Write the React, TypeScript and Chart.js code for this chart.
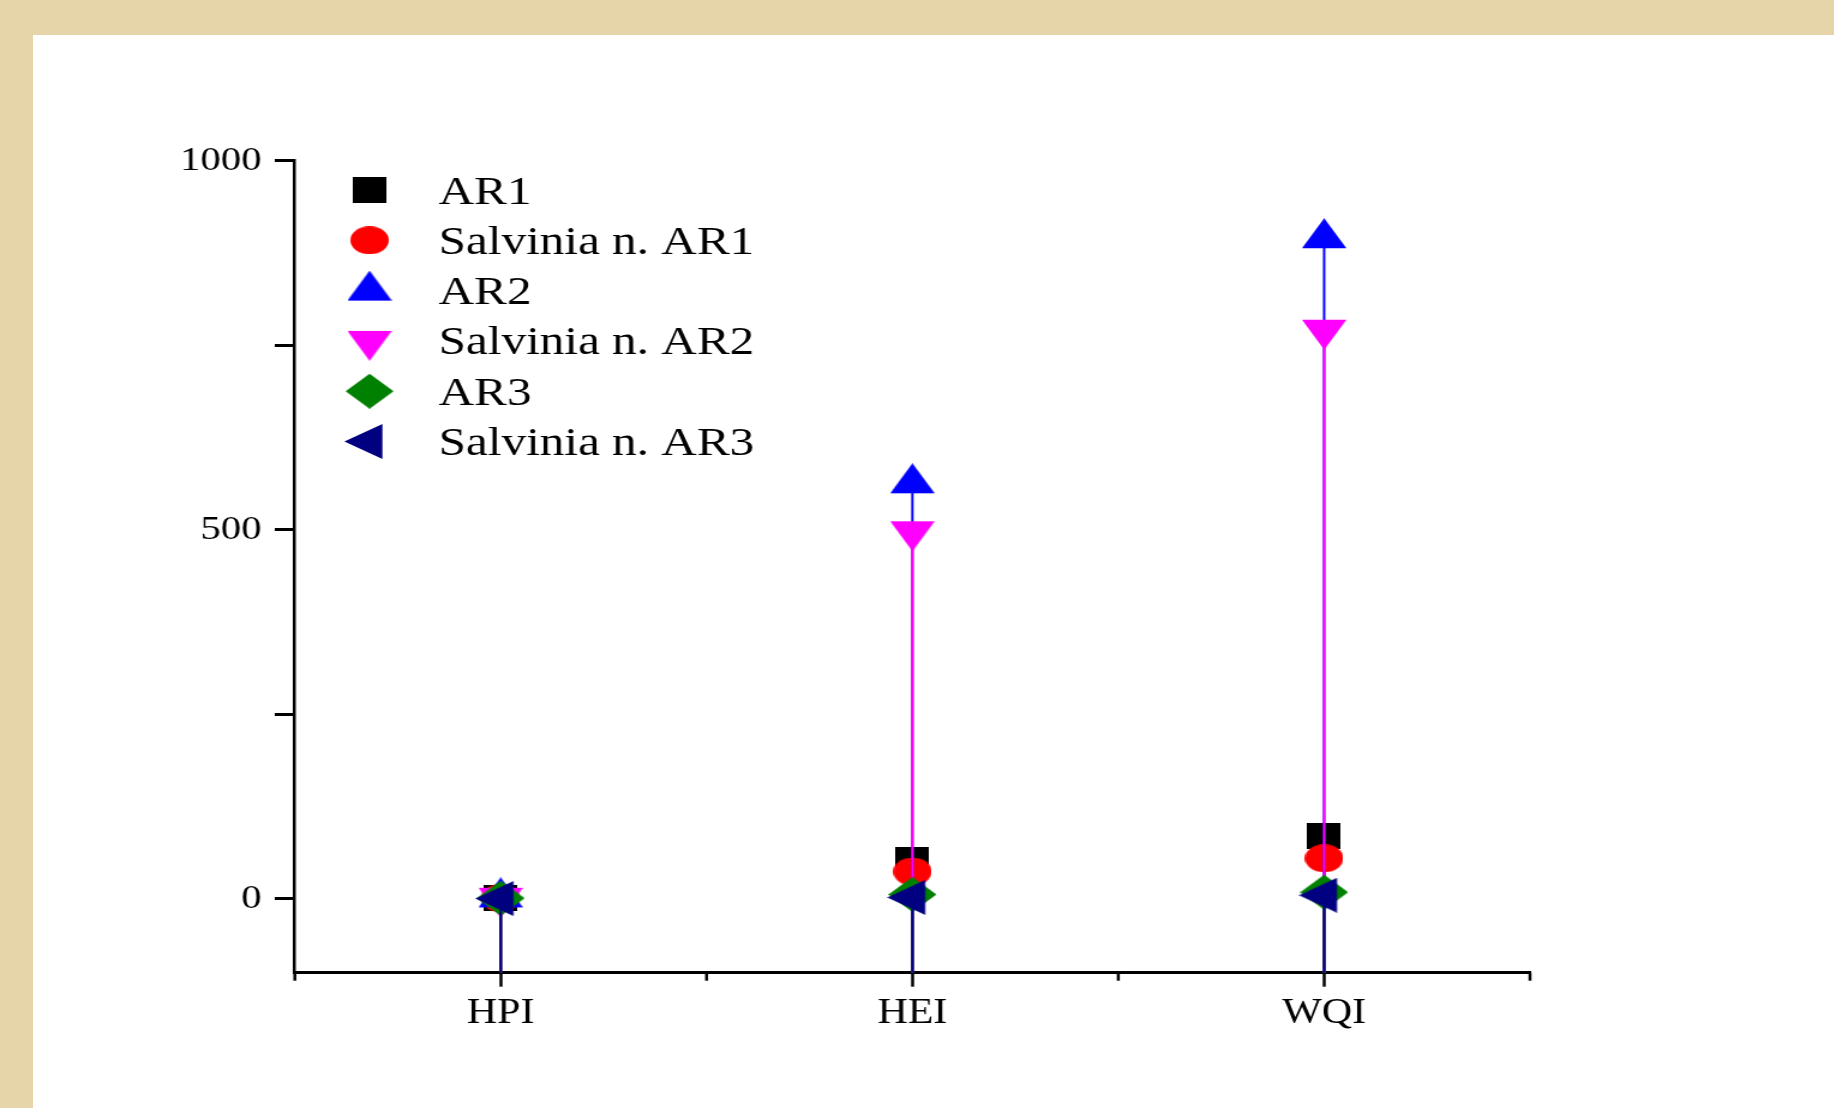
import React, { useEffect, useRef } from 'react';
import { Chart, registerables } from 'chart.js';

Chart.register(...registerables);

// ---------- data ----------
const categories = ['HPI', 'HEI', 'WQI'];
const seriesNames = ['AR1', 'Salvinia n. AR1', 'AR2', 'Salvinia n. AR2', 'AR3', 'Salvinia n. AR3'];
const ar1Values = [1, 53, 85];
const salviniaAr1Values = [1, 37, 55];
const ar2Values = [2, 563, 895];
const salviniaAr2Values = [1.5, 498, 771];
const ar3Values = [1, 6, 9];
const salviniaAr3Values = [0.5, 2, 5];
const yTickValues = [0, 250, 500, 750, 1000];
const yLabelledTicks = [0, 500, 1000];
const xMinorTickValues = [0.5, 1.5, 2.5, 3.5];

// ---------- styles ----------
const seriesColors = ['#000000', '#FF0000', '#0000FF', '#FF00FF', '#008000', '#000080'];
const seriesShapes = ['square', 'circle', 'triangleUp', 'triangleDown', 'diamond', 'triangleLeft'];

const STRETCH = 1.2;
const PAGE_W = 1834;
const PAGE_H = 1108;
const CANVAS_W = Math.round(PAGE_W / STRETCH);
const FONT = 'Liberation Serif';

function makeMarker(shape: string, color: string): HTMLCanvasElement {
  const c = document.createElement('canvas');
  let w = 28, h = 26;
  if (shape === 'circle') { w = 32; h = 28; }
  if (shape === 'triangleUp' || shape === 'triangleDown') { w = 37; h = 40; }
  if (shape === 'diamond') { w = 40; h = 35; }
  if (shape === 'triangleLeft') { w = 42; h = 35; }
  c.width = w;
  c.height = h;
  const ctx = c.getContext('2d')!;
  ctx.fillStyle = color;
  ctx.beginPath();
  switch (shape) {
    case 'square':
      ctx.rect(0, 0, w, h);
      break;
    case 'circle':
      ctx.ellipse(w / 2, h / 2, w / 2, h / 2, 0, 0, Math.PI * 2);
      break;
    case 'triangleUp':
      ctx.moveTo(0, 30); ctx.lineTo(w / 2, 0); ctx.lineTo(w, 30);
      break;
    case 'triangleDown':
      ctx.moveTo(0, 10); ctx.lineTo(w, 10); ctx.lineTo(w / 2, 40);
      break;
    case 'diamond':
      ctx.moveTo(w / 2, 0); ctx.lineTo(w, h / 2); ctx.lineTo(w / 2, h); ctx.lineTo(0, h / 2);
      break;
    case 'triangleLeft':
      ctx.moveTo(0, h / 2); ctx.lineTo(31.7, 0); ctx.lineTo(31.7, h);
      break;
  }
  ctx.closePath();
  ctx.fill();
  return c;
}

export default function App() {
  const canvasRef = useRef<HTMLCanvasElement | null>(null);

  useEffect(() => {
    const canvas = canvasRef.current;
    if (!canvas) return;
    const seriesValues = [ar1Values, salviniaAr1Values, ar2Values, salviniaAr2Values, ar3Values, salviniaAr3Values];
    const markers = seriesShapes.map((s, i) => makeMarker(s, seriesColors[i]));

    const dropLines = {
      id: 'dropLines',
      beforeDatasetDraw(chart: any, args: any) {
        const ds = chart.data.datasets[args.index];
        const ctx = chart.ctx;
        const bottom = chart.chartArea.bottom;
        ctx.save();
        ctx.strokeStyle = ds.borderColor;
        ctx.lineWidth = 2;
        args.meta.data.forEach((el: any) => {
          ctx.beginPath();
          ctx.moveTo(el.x, el.y);
          ctx.lineTo(el.x, bottom);
          ctx.stroke();
        });
        ctx.restore();
      },
    };

    const minorTicks = {
      id: 'minorTicks',
      afterDraw(chart: any) {
        const xs = chart.scales.x;
        const ctx = chart.ctx;
        const bottom = chart.chartArea.bottom;
        ctx.save();
        ctx.strokeStyle = '#000';
        ctx.lineWidth = 2.5;
        xMinorTickValues.forEach((v) => {
          const px = xs.getPixelForValue(v);
          ctx.beginPath();
          ctx.moveTo(px, bottom);
          ctx.lineTo(px, bottom + 8);
          ctx.stroke();
        });
        ctx.restore();
      },
    };

    const legendPlugin = {
      id: 'customLegend',
      afterDraw(chart: any) {
        const ctx = chart.ctx;
        ctx.save();
        ctx.font = `41px "${FONT}"`;
        ctx.fillStyle = '#000';
        ctx.textAlign = 'left';
        ctx.textBaseline = 'alphabetic';
        chart.data.datasets.forEach((ds: any, i: number) => {
          const cy = 190 + 50.3 * i;
          const img = markers[i];
          ctx.drawImage(img, 308 - img.width / 2, cy - img.height / 2);
          ctx.fillText(ds.label, 365.5, cy + 13.5);
        });
        ctx.restore();
      },
    };

    const chart = new Chart(canvas, {
      type: 'scatter',
      data: {
        datasets: seriesNames.map((name, i) => ({
          label: name,
          data: categories.map((_, j) => ({ x: j + 1, y: seriesValues[i][j] })),
          pointStyle: markers[i] as any,
          pointRadius: 12,
          pointHoverRadius: 12,
          borderColor: seriesColors[i],
          backgroundColor: seriesColors[i],
          showLine: false,
          order: seriesNames.length - 1 - i,
        })),
      },
      options: {
        responsive: false,
        animation: false,
        devicePixelRatio: 1,
        events: [],
        layout: { padding: { left: 0, top: 160.7, right: CANVAS_W - 1275, bottom: 0 } },
        plugins: { legend: { display: false }, tooltip: { enabled: false } },
        scales: {
          x: {
            type: 'linear',
            min: 0.5,
            max: 3.5,
            afterBuildTicks: (s: any) => {
              s.ticks = categories.map((_, i) => ({ value: i + 1 }));
            },
            afterFit: (s: any) => {
              s.height = 135.3;
            },
            grid: { display: true, drawOnChartArea: false, drawTicks: true, tickLength: 14, tickWidth: 2.5, tickColor: '#000' },
            border: { display: true, color: '#000', width: 3 },
            ticks: {
              autoSkip: false,
              maxRotation: 0,
              padding: 6,
              color: '#000',
              font: { family: FONT, size: 35 },
              callback: (v: any) => categories[Math.round(Number(v)) - 1] ?? '',
            },
          },
          y: {
            type: 'linear',
            min: -100,
            max: 1000,
            afterBuildTicks: (s: any) => {
              s.ticks = yTickValues.map((v) => ({ value: v }));
            },
            afterFit: (s: any) => {
              s.width = 245.7;
            },
            grid: { display: true, drawOnChartArea: false, drawTicks: true, tickLength: 16.7, tickWidth: 3, tickColor: '#000' },
            border: { display: true, color: '#000', width: 2.5 },
            ticks: {
              padding: 11,
              color: '#000',
              font: { family: FONT, size: 34 },
              callback: (v: any) => (yLabelledTicks.includes(Number(v)) ? String(v) : ''),
            },
          },
        },
      },
      plugins: [dropLines, minorTicks, legendPlugin],
    });

    return () => {
      chart.destroy();
    };
  }, []);

  return (
    <div
      style={{
        position: 'fixed',
        left: 0,
        top: 0,
        width: PAGE_W,
        height: PAGE_H,
        overflow: 'hidden',
        background: '#FFFFFF',
      }}
    >
      <div style={{ position: 'absolute', left: 0, top: 0, width: PAGE_W, height: 35, background: '#E6D5A8' }} />
      <div style={{ position: 'absolute', left: 0, top: 0, width: 33, height: PAGE_H, background: '#E6D5A8' }} />
      <canvas
        ref={canvasRef}
        width={CANVAS_W}
        height={PAGE_H}
        style={{
          position: 'absolute',
          left: 0,
          top: 0,
          width: CANVAS_W,
          height: PAGE_H,
          transform: `scaleX(${STRETCH})`,
          transformOrigin: '0 0',
        }}
      />
    </div>
  );
}
